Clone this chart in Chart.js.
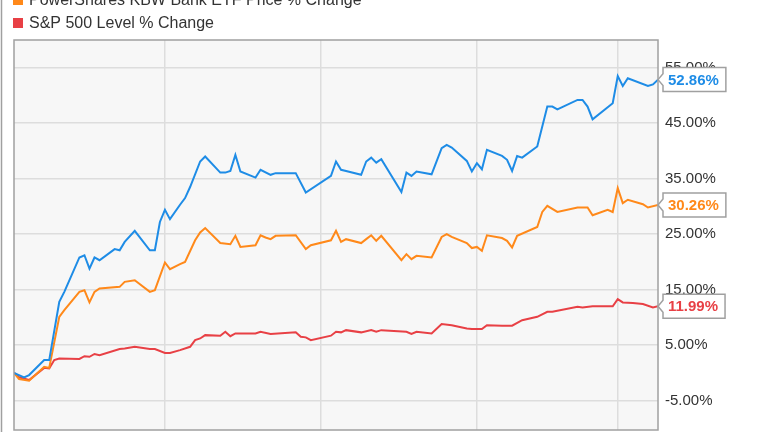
<!DOCTYPE html>
<html>
<head>
<meta charset="utf-8">
<script src="https://cdn.jsdelivr.net/npm/chart.js@4.4.1/dist/chart.umd.min.js"></script>
<style>
  html, body { margin: 0; padding: 0; background: #ffffff; }
  #chart { display: block; }
</style>
</head>
<body>
<canvas id="chart" width="764" height="432"></canvas>
<script>
// days counted from Nov 1, 2016
const seriesNames = [
  'Bank Stock Price % Change',
  'PowerShares KBW Bank ETF Price % Change',
  'S&P 500 Level % Change'
]
const seriesColors = ['#1e8ce6', '#ff891a', '#e84045']

const blueDays = [0, 2, 3, 6, 7, 9, 10, 13, 14, 15, 16, 17, 20, 21, 22, 24, 27, 28, 29, 30, 31, 33, 34, 35, 37, 38, 41, 42, 43, 44, 45, 48, 49, 51, 52, 56, 58, 63, 64, 65, 66, 69, 70, 71, 72, 73, 77, 78, 79, 80, 83, 85, 86, 87, 90, 91, 92, 93, 94, 97, 98, 99, 100, 101, 104, 106, 107, 108, 112, 113, 114, 115, 119, 120, 121, 122, 126, 127, 128]
const blueValues = [0, -0.8, -0.4, 2.3, 2.3, 12.8, 14.6, 20.8, 21.2, 18.8, 20.8, 20.3, 22.3, 22.1, 23.6, 25.6, 22.1, 22.1, 27.2, 29.4, 27.7, 30.3, 31.5, 33.5, 38.1, 39.0, 36.1, 36.1, 36.4, 39.3, 36.3, 35.2, 36.6, 35.7, 36.0, 36.0, 32.5, 35.5, 38.1, 36.6, 36.4, 35.7, 38.1, 38.8, 37.9, 38.5, 32.6, 36.1, 35.5, 36.3, 35.8, 40.5, 41.1, 40.6, 38.2, 36.3, 37.8, 36.7, 40.2, 39.1, 38.4, 36.4, 39.1, 38.8, 40.8, 48.0, 48.0, 47.5, 49.2, 49.2, 48.0, 45.7, 48.6, 53.5, 51.7, 53.1, 51.7, 52.0, 52.86]

const orangeDays = [0, 1, 3, 6, 7, 9, 10, 13, 14, 15, 16, 17, 21, 22, 24, 27, 28, 30, 31, 33, 34, 36, 37, 38, 41, 43, 44, 45, 48, 49, 50, 51, 52, 56, 58, 59, 63, 64, 65, 66, 69, 70, 71, 72, 73, 77, 78, 79, 80, 83, 85, 86, 87, 90, 91, 92, 93, 94, 97, 98, 99, 100, 104, 105, 106, 108, 112, 114, 115, 118, 119, 120, 121, 122, 125, 126, 128]
const orangeValues = [0, -1.1, -1.4, 1.1, 0.9, 10.1, 11.3, 14.6, 14.9, 12.7, 14.6, 15.2, 15.5, 16.4, 16.7, 14.6, 14.9, 19.9, 18.7, 19.6, 20.0, 23.9, 25.3, 26.1, 23.4, 23.2, 24.7, 22.7, 23.0, 24.8, 24.4, 24.1, 24.7, 24.8, 22.3, 23.0, 23.9, 25.6, 23.6, 24.1, 23.4, 24.1, 24.8, 23.8, 24.7, 20.3, 21.4, 20.5, 21.1, 20.8, 24.5, 25.0, 24.5, 23.4, 22.5, 22.7, 22.0, 24.8, 24.3, 23.8, 22.6, 24.7, 26.3, 29.0, 30.1, 29.0, 29.8, 29.8, 28.4, 29.4, 29.0, 33.3, 30.6, 31.2, 30.4, 29.8, 30.26]

const redDays = [0, 1, 3, 6, 7, 8, 9, 13, 14, 15, 16, 17, 21, 22, 24, 27, 28, 30, 31, 33, 35, 36, 37, 38, 41, 42, 43, 44, 48, 49, 51, 56, 57, 58, 59, 63, 64, 65, 66, 69, 71, 72, 73, 78, 79, 80, 83, 85, 87, 90, 91, 93, 94, 97, 99, 101, 104, 106, 107, 112, 113, 115, 119, 120, 121, 123, 125, 127, 128]
const redValues = [0, -0.8, -1.3, 0.9, 0.8, 2.3, 2.6, 2.5, 3.0, 2.9, 3.4, 3.2, 4.3, 4.4, 4.7, 4.3, 4.3, 3.6, 3.6, 4.1, 4.7, 5.9, 6.2, 6.8, 6.7, 7.4, 6.6, 7.1, 7.1, 7.4, 7.0, 7.3, 6.5, 6.4, 5.9, 6.7, 7.4, 7.3, 7.7, 7.3, 7.7, 7.4, 7.7, 7.4, 7.0, 7.4, 7.1, 8.8, 8.6, 8.0, 7.9, 7.9, 8.6, 8.5, 8.5, 9.5, 10.1, 11.0, 11.0, 11.9, 11.8, 12.0, 12.0, 13.3, 12.7, 12.6, 12.4, 11.8, 11.99]

// month starts: Dec 1, Jan 1, Feb 1, Mar 1
const monthTicks = [30, 61, 92, 120]
const yTicks = [-5, 5, 15, 25, 35, 45, 55]

const fontFamily = '"Liberation Sans", Arial, sans-serif'

function toPoints(days, values) {
  return days.map((d, i) => ({ x: d, y: values[i] }))
}

function noPadding(s) {
  s.paddingTop = 0
  s.paddingBottom = 0
  s.paddingLeft = 0
  s.paddingRight = 0
}

const frameAndLegend = {
  id: 'frameAndLegend',
  beforeDraw(chart) {
    const ctx = chart.ctx
    const a = chart.chartArea
    ctx.save()
    ctx.fillStyle = '#f7f7f7'
    ctx.fillRect(a.left, a.top, a.right - a.left, a.bottom - a.top)
    ctx.restore()
  },
  afterDraw(chart) {
    const ctx = chart.ctx
    const a = chart.chartArea
    ctx.save()
    // outer frame + plot frame
    ctx.strokeStyle = '#a0a0a0'
    ctx.lineWidth = 1.5
    ctx.beginPath()
    ctx.moveTo(1.5, 0)
    ctx.lineTo(1.5, chart.height)
    ctx.stroke()
    ctx.strokeRect(a.left, a.top, a.right - a.left, a.bottom - a.top)

    // legend (top of it runs off the picture)
    ctx.font = '16px ' + fontFamily
    ctx.textBaseline = 'middle'
    ctx.textAlign = 'left'
    seriesNames.forEach((name, i) => {
      const cy = 23 - (seriesNames.length - 1 - i) * 23
      ctx.fillStyle = seriesColors[i]
      ctx.fillRect(13, cy - 5, 10, 10)
      ctx.fillStyle = '#333333'
      ctx.fillText(name, 29, cy + 1)
    })

    // last value callouts
    const yScale = chart.scales.y
    ctx.font = 'bold 15px ' + fontFamily
    chart.data.datasets.forEach((ds, i) => {
      const last = ds.data[ds.data.length - 1]
      const cy = yScale.getPixelForValue(last.y)
      const txt = last.y.toFixed(2) + '%'
      const w = ctx.measureText(txt).width + 12
      const x0 = a.right + 5
      const top = cy - 12, bot = cy + 12
      ctx.beginPath()
      ctx.moveTo(a.right, cy)
      ctx.lineTo(x0, cy - 6)
      ctx.lineTo(x0, top)
      ctx.lineTo(x0 + w, top)
      ctx.lineTo(x0 + w, bot)
      ctx.lineTo(x0, bot)
      ctx.lineTo(x0, cy + 6)
      ctx.closePath()
      ctx.fillStyle = '#ffffff'
      ctx.fill()
      ctx.strokeStyle = '#a0a0a0'
      ctx.lineWidth = 1.5
      ctx.stroke()
      ctx.fillStyle = seriesColors[i]
      ctx.fillText(txt, x0 + 5, cy + 1)
    })
    ctx.restore()
  }
}

new Chart(document.getElementById('chart'), {
  type: 'line',
  data: {
    datasets: [
      { label: seriesNames[0], data: toPoints(blueDays, blueValues), borderColor: seriesColors[0] },
      { label: seriesNames[1], data: toPoints(orangeDays, orangeValues), borderColor: seriesColors[1] },
      { label: seriesNames[2], data: toPoints(redDays, redValues), borderColor: seriesColors[2] }
    ]
  },
  options: {
    responsive: false,
    animation: false,
    layout: { padding: { top: 40, left: 14, bottom: 2, right: 0 } },
    elements: {
      point: { radius: 0 },
      line: { borderWidth: 2, tension: 0, fill: false }
    },
    plugins: {
      legend: { display: false },
      tooltip: { enabled: false }
    },
    scales: {
      x: {
        type: 'linear',
        min: 0,
        max: 128,
        afterBuildTicks: s => { s.ticks = monthTicks.map(v => ({ value: v })) },
        afterFit: s => { s.height = 0; noPadding(s) },
        ticks: { display: false },
        grid: { color: '#dddddd', lineWidth: 1.5, drawTicks: false },
        border: { display: false }
      },
      y: {
        position: 'right',
        min: -10.3,
        max: 60,
        afterBuildTicks: s => { s.ticks = yTicks.map(v => ({ value: v })) },
        afterFit: s => { s.width = 106; noPadding(s) },
        ticks: {
          padding: 7,
          color: '#333333',
          font: { size: 15, family: fontFamily },
          callback: v => v.toFixed(2) + '%'
        },
        grid: { color: '#dddddd', lineWidth: 1.5, drawTicks: false },
        border: { display: false }
      }
    }
  },
  plugins: [frameAndLegend]
})
</script>
</body>
</html>
